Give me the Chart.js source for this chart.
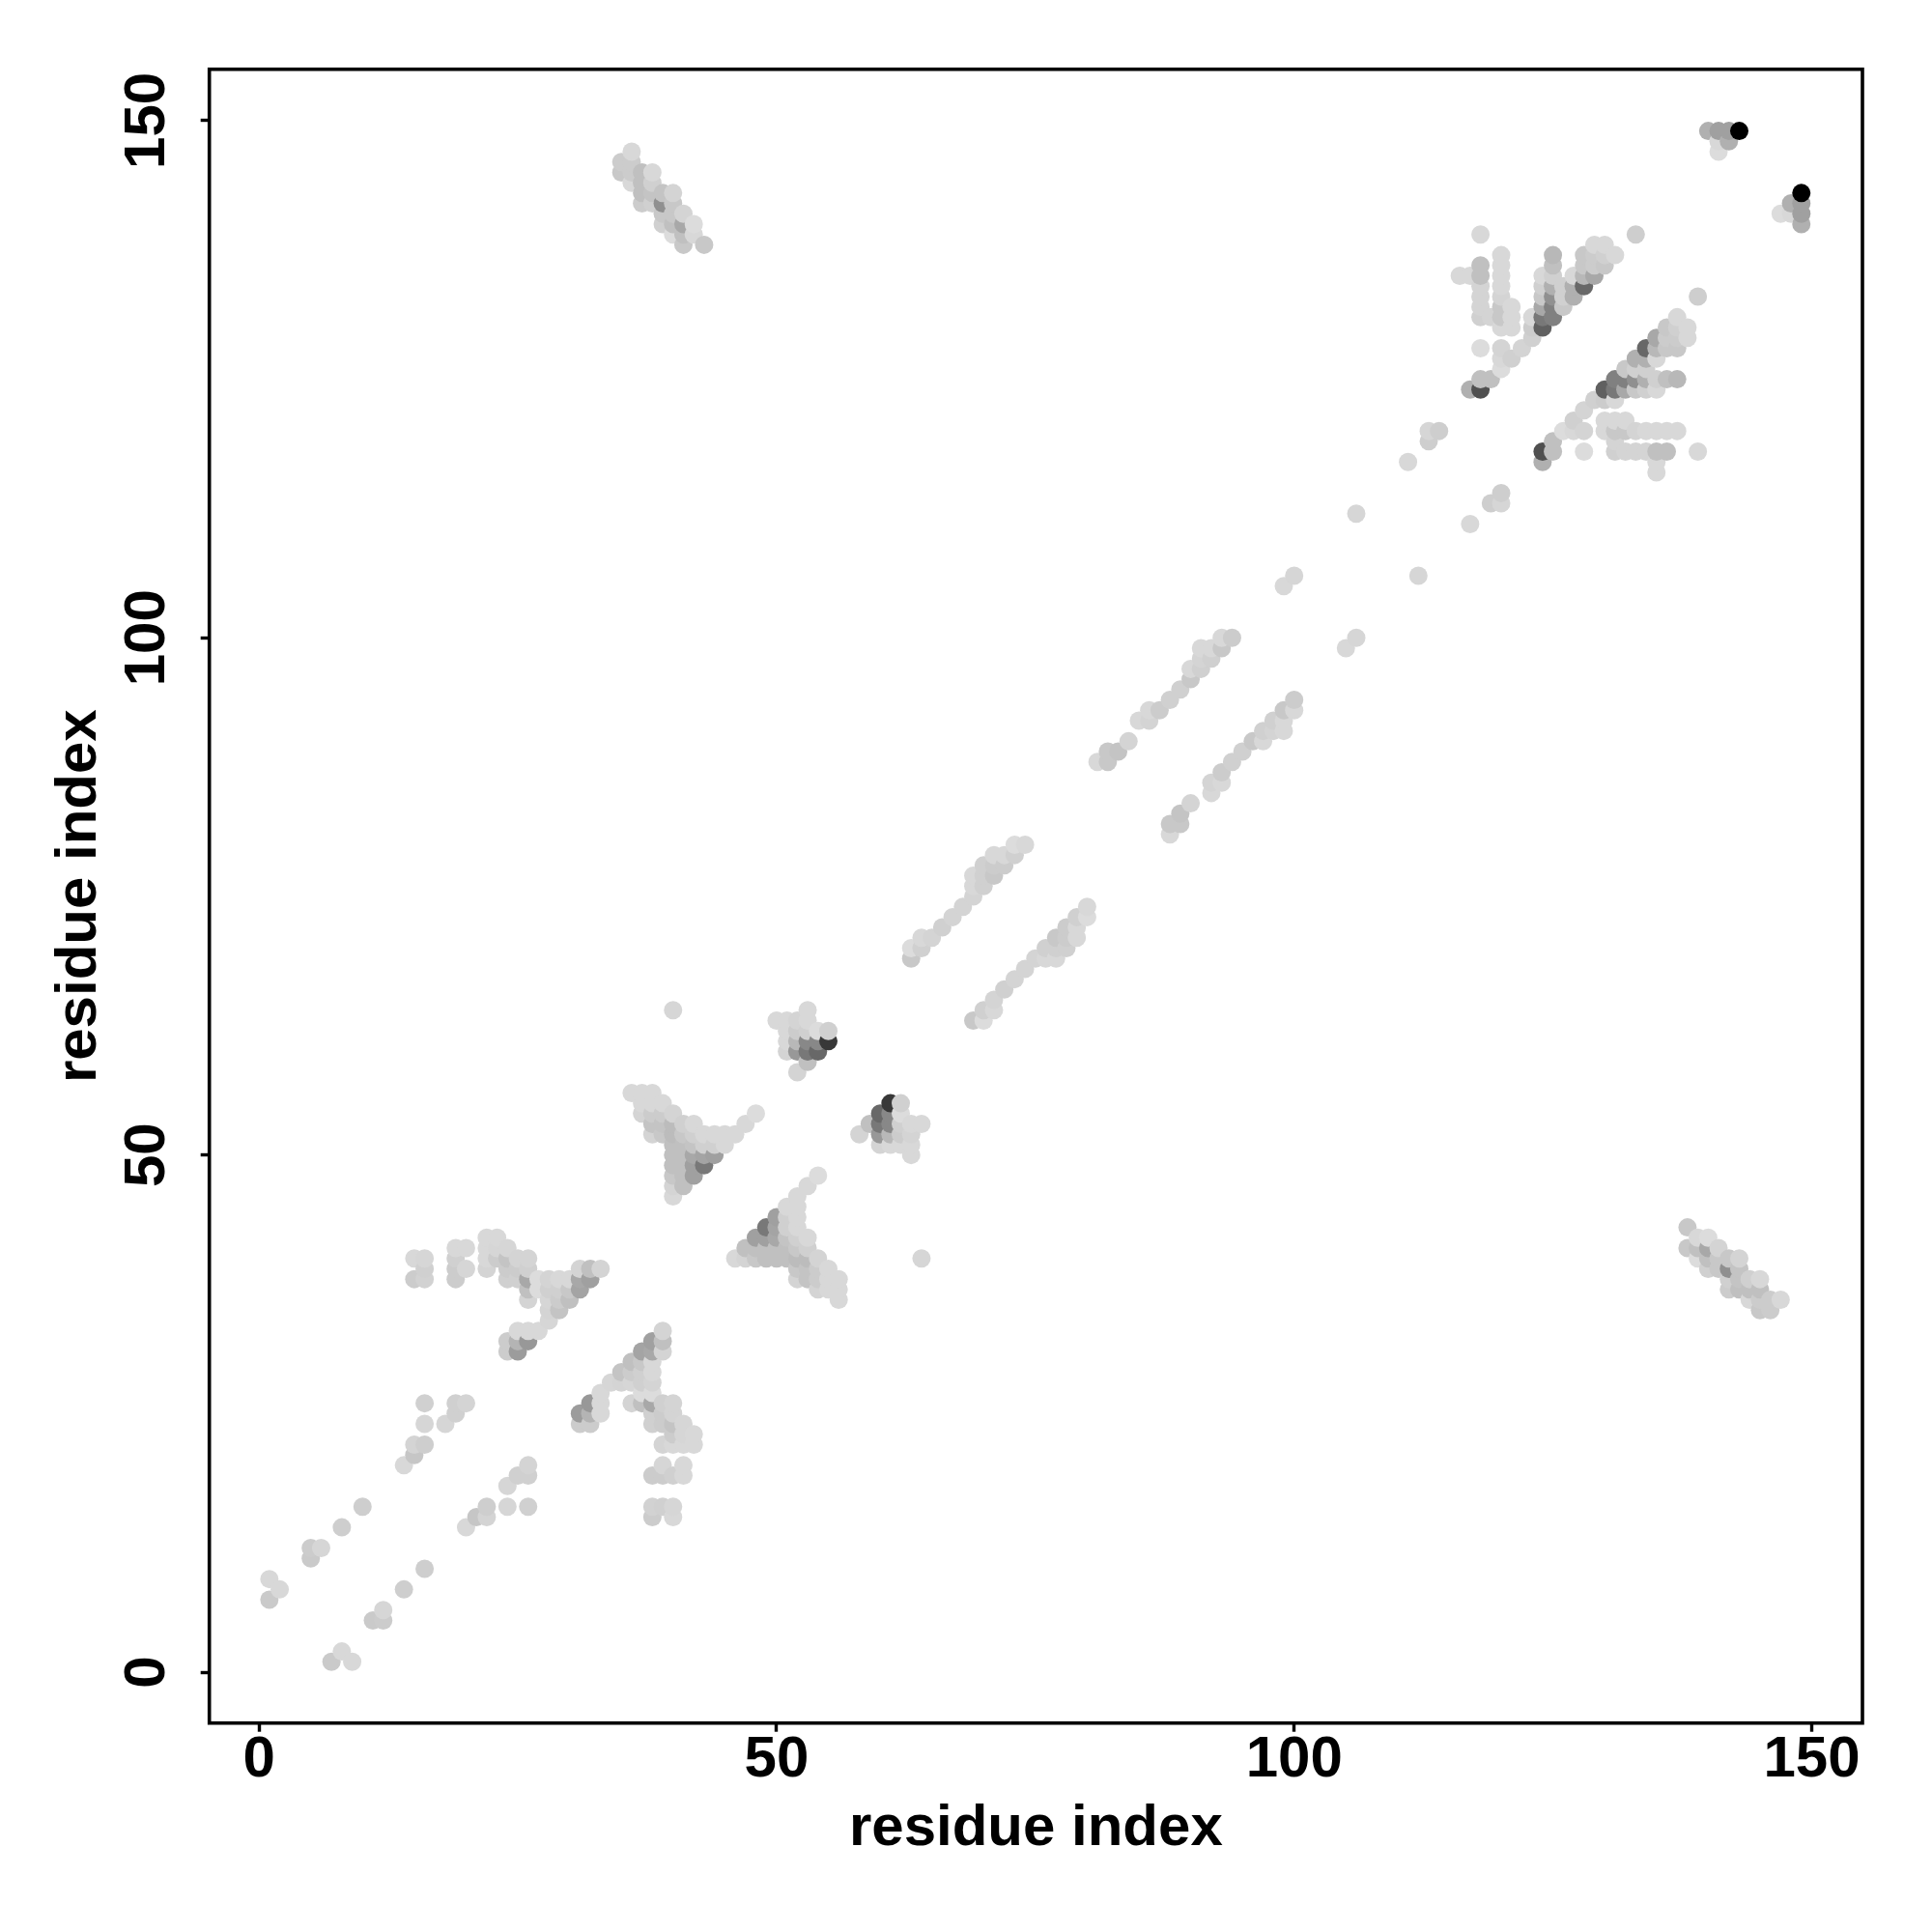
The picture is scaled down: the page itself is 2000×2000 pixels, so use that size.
<!DOCTYPE html>
<html>
<head>
<meta charset="utf-8">
<style>html,body{margin:0;padding:0;background:#fff}canvas{display:block}</style>
<script src="https://cdn.jsdelivr.net/npm/chart.js@4/dist/chart.umd.min.js"></script>
</head>
<body>
<canvas id="c" width="2000" height="2000" style="width:2000px;height:2000px"></canvas>
<script>
// Each entry: [residue i, residue j, grey level]. The contact map is symmetric: (i,j) and (j,i) share a value.
const tickValues = [0, 50, 100, 150];
const axisTitle = 'residue index';

const contactsStart = [
[1,7,202],[1,9,216],[2,8,216],[5,11,202],[5,12,204],[6,12,214],[8,14,206],[10,16,206],
[14,20,216],[15,21,198],[15,22,212],[16,22,206],[16,24,214],[16,26,208],[18,24,214],[19,25,208],[19,26,208],[20,26,212]
];
const contactsCluster1 = [
[15,38,204],[15,40,216],[16,38,210],[16,39,208],[16,40,214],
[19,38,204],[19,39,204],[19,40,208],[19,41,216],[20,39,214],[20,41,216],
[22,39,212],[22,40,216],[22,41,216],[22,42,216],[23,40,204],[23,41,214],[23,42,216],
[24,31,204],[24,32,204],[24,38,208],[24,39,204],[24,40,196],[24,41,214],
[25,31,156],[25,32,180],[25,33,216],[25,38,208],[25,39,204],[25,40,212],
[26,32,152],[26,33,216],[26,36,212],[26,37,192],[26,38,168],[26,39,208],[26,40,212],
[27,33,216],[27,37,220],[27,38,220],
[28,34,214],[28,35,212],[28,36,214],[28,37,208],[28,38,212],
[29,35,196],[29,36,204],[29,37,208],[29,38,216],
[30,36,192],[30,37,200],[30,38,216],
[31,37,164],[31,38,168],[31,39,212],[32,38,160],[32,39,192],[33,39,212]
];
const contactsCluster2 = [
[36,56,216],[37,56,216],[38,56,216],
[37,54,212],[37,55,216],[38,55,216],[39,55,216],
[38,52,212],[38,53,196],[38,54,204],
[39,52,200],[39,53,196],[39,54,204],
[40,46,216],[40,47,212],[40,48,200],[40,49,192],[40,50,192],[40,51,192],[40,52,188],[40,53,188],[40,54,212],
[41,47,192],[41,48,192],[41,49,192],[41,50,192],[41,51,192],[41,52,200],[41,53,208],
[42,48,160],[42,49,160],[42,50,168],[42,51,196],[42,52,208],[42,53,216],
[43,49,120],[43,50,164],[43,51,208],[43,52,216],
[44,50,160],[44,51,208],[44,52,216],
[45,51,216],[45,52,216],[46,52,216],[47,53,216],[48,54,220]
];
const contactsCluster3 = [
[40,64,214],
[50,63,216],[51,60,212],[51,61,216],[51,62,216],[51,63,216],
[52,58,212],[52,60,152],[52,61,184],[52,62,204],[52,63,212],
[53,59,192],[53,60,120],[53,61,136],[53,62,208],[53,63,216],[53,64,216],
[54,60,104],[54,61,136],[54,62,220],[55,61,56],[55,62,208]
];
const contactsStrandA = [
[63,69,200],[63,70,220],[64,70,208],[64,71,216],[65,71,212],[66,72,208],[67,73,212],[68,74,212],
[69,75,212],[69,76,216],[69,77,216],[70,76,208],[70,77,208],[70,78,208],
[71,77,200],[71,78,204],[71,79,216],[72,78,204],[72,79,216],[73,79,208],[73,80,220],[74,80,216]
];
const contactsStrandB = [
[81,88,216],[82,88,200],[82,89,200],[83,89,196],[84,90,212],
[85,92,216],[86,92,212],[86,93,216],[87,93,204],[88,94,208],[89,95,208],
[90,96,200],[90,97,216],[91,97,208],[91,98,212],[91,99,216],[92,98,208],[92,99,216],
[93,99,200],[93,100,216],[94,100,204]
];
const contactsStrandC = [
[99,105,216],[100,106,214],[106,112,214],[111,117,216],[113,119,206],[113,120,214],[114,120,206]
];
const contactsCluster4 = [
[116,135,216],[117,124,176],[117,135,216],
[118,124,80],[118,125,192],[118,128,220],[118,131,208],[118,132,212],[118,133,212],[118,134,212],[118,135,192],[118,136,192],[118,139,216],
[119,125,192],[119,131,212],
[120,126,220],[120,127,216],[120,128,212],[120,130,216],[120,131,200],[120,132,200],[120,133,212],[120,134,216],[120,135,216],[120,136,216],[120,137,216],
[121,127,208],[121,130,216],[121,131,216],[121,132,216],
[122,128,212],[123,129,208],[123,130,204],[123,131,216],
[124,130,96],[124,131,120],[124,132,168],[124,133,200],[124,134,208],[124,135,216],
[125,131,128],[125,132,128],[125,133,144],[125,134,176],[125,135,208],[125,136,192],[125,137,184],
[126,132,200],[126,133,208],[126,134,208],
[127,133,176],[127,134,176],[127,135,216],
[128,134,104],[128,135,184],[128,136,200],[128,137,200],
[129,135,168],[129,136,204],[129,137,204],[129,138,216],
[130,136,200],[130,137,208],[130,138,216],
[131,137,216],[133,139,206]
];
const contactsLongRange = [
[35,145,200],[35,146,204],[36,144,216],[36,145,204],[36,146,204],[36,147,216],
[37,142,204],[37,143,192],[37,144,192],[37,145,192],
[38,142,208],[38,143,196],[38,144,208],[38,145,216],
[39,140,208],[39,141,200],[39,142,144],[39,143,196],
[40,139,220],[40,140,192],[40,141,200],[40,142,200],[40,143,212],
[41,138,200],[41,139,192],[41,140,168],[41,141,212],
[42,139,216],[42,140,220],[43,138,200]
];
const contactsEnd = [
[140,149,176],[141,147,220],[141,148,216],[141,149,160],[142,148,176],[142,149,160],[143,149,0]
];

const contacts = [].concat(contactsStart, contactsCluster1, contactsCluster2, contactsCluster3,
  contactsStrandA, contactsStrandB, contactsStrandC, contactsCluster4, contactsLongRange, contactsEnd);

const cells = [];
contacts.forEach(([i, j, g]) => { cells.push({x:i, y:j, g}); cells.push({x:j, y:i, g}); });
cells.sort((a, b) => a.x - b.x || a.y - b.y);

const framePlugin = {
  id: 'frame',
  afterDatasetsDraw(chart) {
    const a = chart.chartArea, ctx = chart.ctx;
    ctx.save();
    ctx.strokeStyle = '#000';
    ctx.lineWidth = 3.6;
    ctx.strokeRect(a.left, a.top, a.right - a.left, a.bottom - a.top);
    ctx.restore();
  }
};

const font = {family: '"Liberation Sans", Arial, sans-serif', size: 60, weight: 'bold'};
const grid = {display: true, drawOnChartArea: false, drawTicks: true, tickLength: 9, tickWidth: 3.4, tickColor: '#000', color: '#000'};

new Chart(document.getElementById('c'), {
  type: 'scatter',
  data: {datasets: [{
    data: cells.map(c => ({x: c.x, y: c.y})),
    pointRadius: 9.5,
    pointHoverRadius: 9.5,
    borderWidth: 0,
    pointBorderWidth: 0,
    pointBackgroundColor: cells.map(c => `rgb(${c.g},${c.g},${c.g})`)
  }]},
  options: {
    responsive: false,
    animation: false,
    layout: {padding: {top: 71.7, right: 72, left: 0, bottom: 0}},
    plugins: {legend: {display: false}, tooltip: {enabled: false}, title: {display: false}},
    scales: {
      x: {
        type: 'linear', min: -4.8, max: 154.9,
        afterBuildTicks: s => { s.ticks = tickValues.map(v => ({value: v})); },
        afterFit: s => { s.height = 216.3; },
        grid, border: {display: false},
        ticks: {color: '#000', font, maxRotation: 0, minRotation: 0, padding: -6, autoSkip: false},
        title: {display: true, text: axisTitle, color: '#000', font, padding: {top: 0, bottom: 71}}
      },
      y: {
        type: 'linear', min: -4.92, max: 154.97,
        afterBuildTicks: s => { s.ticks = tickValues.map(v => ({value: v})); },
        afterFit: s => { s.width = 216.7; },
        grid, border: {display: false},
        ticks: {color: '#000', font, maxRotation: 90, minRotation: 90, padding: 4, crossAlign: 'center', autoSkip: false},
        title: {display: true, text: axisTitle, color: '#000', font, padding: {top: 46, bottom: 0}}
      }
    }
  },
  plugins: [framePlugin]
});
</script>
</body>
</html>
